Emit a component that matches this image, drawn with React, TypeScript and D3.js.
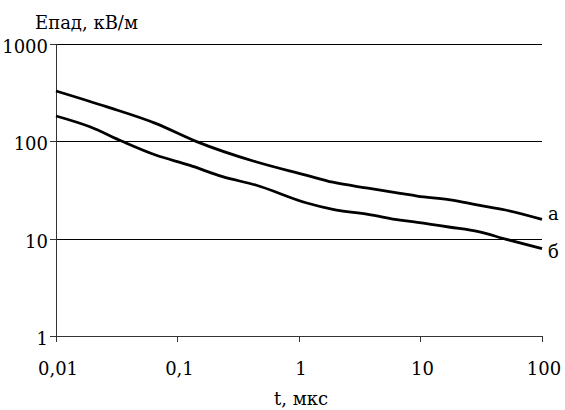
import React from "react";
import * as d3 from "d3";

const tA = [0.01, 0.026, 0.066, 0.142, 0.44, 1.14, 1.9, 3.7, 6.8, 9.4, 17.6, 30, 50, 100];
const seriesA = [329, 227, 153, 100, 61.7, 45, 38, 33, 29.2, 27.4, 25, 22.1, 19.7, 15.8];
const tB = [0.01, 0.019, 0.035, 0.066, 0.125, 0.235, 0.44, 1.14, 1.9, 3.7, 6.8, 9.4, 17.6, 30, 50, 100];
const seriesB = [182, 141, 100, 72.3, 57, 43.3, 35.6, 23.4, 20, 17.8, 15.5, 14.7, 13.1, 11.8, 9.9, 7.9];
const seriesNames = ["а", "б"];
const xTicks = [0.01, 0.1, 1, 10, 100];
const xTickLabels = ["0,01", "0,1", "1", "10", "100"];
const yTicks = [1, 10, 100, 1000];
const yTickLabels = ["1", "10", "100", "1000"];
const yTitle = "Епад, кВ/м";
const xTitle = "t, мкс";

export default function App() {
  const W = 565, H = 410;
  const x = d3.scaleLog().domain([0.01, 100]).range([56, 542]);
  const y = d3.scaleLog().domain([1, 1000]).range([336, 44]);
  const font = "DejaVu Serif";
  const fs = 18;
  const ts = { fontFamily: font, fontSize: fs + "px" } as React.CSSProperties;
  const mkLine = (tv: number[]) =>
    d3
      .line<number>()
      .x((_, i) => x(tv[i]))
      .y((d) => y(d))
      .curve(d3.curveMonotoneX);
  const series = [
    { t: tA, v: seriesA },
    { t: tB, v: seriesB },
  ];
  const labelY = [220, 258];
  return (
    <div style={{ position: "absolute", left: 0, top: 0 }}>
      <svg width={W} height={H} style={{ display: "block", background: "#fff" }}>
        {yTicks.filter((v) => v > 1).map((v) => (
          <line key={"g" + v} x1={x(0.01)} x2={542} y1={Math.round(y(v)) + 0.5} y2={Math.round(y(v)) + 0.5} stroke="#000" strokeWidth={1} />
        ))}
        <line x1={x(0.01) + 0.5} x2={x(0.01) + 0.5} y1={y(1000)} y2={y(1)} stroke="#333" strokeWidth={1} />
        <line x1={x(0.01)} x2={x(100)} y1={Math.round(y(1)) + 0.5} y2={Math.round(y(1)) + 0.5} stroke="#333" strokeWidth={1} />
        {yTicks.map((v) => (
          <line key={"yt" + v} x1={50} x2={x(0.01)} y1={Math.round(y(v)) + 0.5} y2={Math.round(y(v)) + 0.5} stroke="#333" strokeWidth={1} />
        ))}
        {xTicks.map((v) => (
          <line key={"xt" + v} x1={Math.round(x(v)) + 0.5} x2={Math.round(x(v)) + 0.5} y1={y(1)} y2={y(1) + 6} stroke="#333" strokeWidth={1} />
        ))}
        {yTicks.map((v, i) => (
          <text key={"yl" + v} x={48} y={y(v) + 9} textAnchor="end" style={ts} fill="#000">
            {yTickLabels[i]}
          </text>
        ))}
        {xTicks.map((v, i) => (
          <text key={"xl" + v} x={x(v) + 2} y={375} textAnchor="middle" style={ts} fill="#000">
            {xTickLabels[i]}
          </text>
        ))}
        <text x={35} y={29} style={ts} fill="#000">{yTitle}</text>
        <text x={301} y={405} textAnchor="middle" style={ts} fill="#000">{xTitle}</text>
        {series.map((s, i) => (
          <path key={"s" + i} d={mkLine(s.t)(s.v) || ""} fill="none" stroke="#000" strokeWidth={2.8} strokeLinejoin="round" />
        ))}
        {series.map((s, i) => (
          <text key={"n" + i} x={548} y={labelY[i]} style={ts} fill="#000">
            {seriesNames[i]}
          </text>
        ))}
      </svg>
    </div>
  );
}
